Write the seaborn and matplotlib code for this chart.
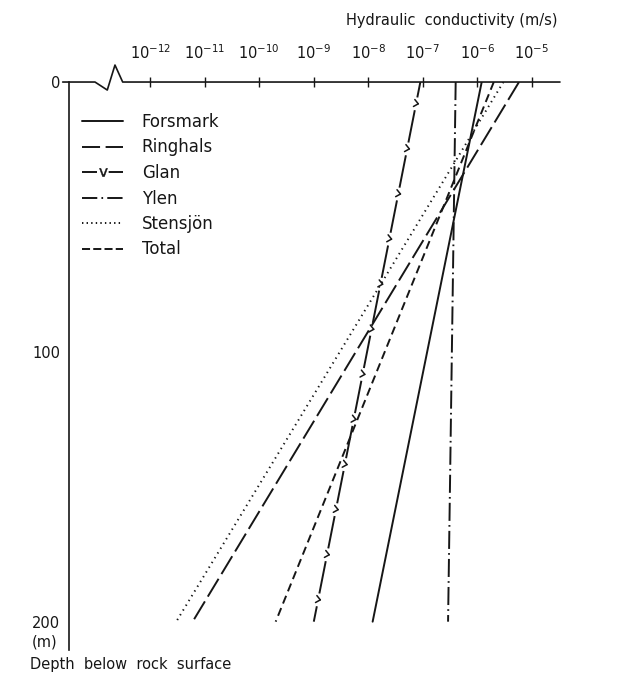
import numpy as np
import pandas as pd
import matplotlib
matplotlib.use("Agg")
import matplotlib.pyplot as plt
from matplotlib import patheffects
from matplotlib.lines import Line2D
from matplotlib.ticker import FixedLocator, NullLocator
import seaborn as sns

# Depth of the two ends of each fitted profile (m below rock surface)
depth_m = [0, 200]

# Hydraulic conductivity (m/s) at the surface and at 200 m depth
series_names = ["Forsmark", "Ringhals", "Glan", "Ylen", "Stensjön", "Total"]
k_forsmark = [1.2e-6, 1.2e-8]
k_ringhals = [5.8e-6, 6.0e-12]
k_glan = [9.0e-8, 1.0e-9]
k_ylen = [4.0e-7, 2.9e-7]
k_stensjon = [3.0e-6, 3.0e-12]
k_total = [2.0e-6, 2.0e-10]

k_ticks = [1e-12, 1e-11, 1e-10, 1e-9, 1e-8, 1e-7, 1e-6, 1e-5]
depth_ticks = [0, 100, 200]

sns.set_style("white")
plt.rcParams["font.family"] = ["DejaVu Sans"]
plt.rcParams["lines.scale_dashes"] = False

INK = "#161616"

profiles = pd.DataFrame({
    "series": np.repeat(series_names, len(depth_m)),
    "depth": depth_m * len(series_names),
    "K": k_forsmark + k_ringhals + k_glan + k_ylen + k_stensjon + k_total,
})

line_dashes = {
    "Forsmark": "",
    "Ringhals": (15, 4),
    "Glan": (21, 10),
    "Ylen": (13, 3, 1.2, 3),
    "Stensjön": (1, 3),
    "Total": (6, 3.5),
}

fig = plt.figure(figsize=(6.22, 6.74), dpi=100)
ax = fig.add_axes([0.1114, 0.0356, 0.7889, 0.8427])
ax.set_xscale("log")
ax.set_xlim(10 ** -13.484, 10 ** -4.485)
ax.set_ylim(210.5, 0)

sns.lineplot(data=profiles, x="K", y="depth", hue="series", style="series",
             palette={n: INK for n in series_names}, dashes=line_dashes,
             sort=False, estimator=None, linewidth=1.4, legend=False, ax=ax)
ax.set_xlim(10 ** -13.484, 10 ** -4.485)
ax.set_ylim(210.5, 0)
ax.set_xlabel("")
ax.set_ylabel("")

# Glan: open chevrons sitting in the gaps of its long dashes
spacing_pt = 32
px_per_pt = fig.dpi / 72
p0 = ax.transData.transform((k_glan[0], depth_m[0]))
p1 = ax.transData.transform((k_glan[1], depth_m[1]))
s_total = float(np.hypot(*(p1 - p0)))
sp_px = spacing_pt * px_per_pt
n_marks = int(np.ceil(s_total / sp_px)) - 1
period_px = (s_total - sp_px) / (n_marks - 1)
gap_px = 13.0
on_px = period_px - gap_px
offset_px = (on_px - sp_px / 2 + gap_px / 2) % period_px
for ln in ax.lines:
    xd = np.asarray(ln.get_xdata(), dtype=float)
    if xd.size == 2 and np.allclose(np.log10(xd), np.log10(k_glan)):
        ln.set_linestyle((offset_px / px_per_pt,
                          (on_px / px_per_pt, gap_px / px_per_pt)))

chev = 5.5 / sp_px
ax.plot(k_glan, depth_m, color=INK, lw=1.1,
        path_effects=[
            patheffects.TickedStroke(spacing=spacing_pt, angle=-50, length=chev, offset=(1.6, 0)),
            patheffects.TickedStroke(spacing=spacing_pt, angle=-130, length=chev, offset=(1.6, 0)),
        ])

# Axes frame: left depth axis, top conductivity axis with a break mark
for side in ("top", "right", "bottom"):
    ax.spines[side].set_visible(False)
ax.spines["left"].set_color(INK)
ax.spines["left"].set_linewidth(1.2)
ax.plot([-0.01345, 0.0524, 0.0774, 0.0931, 0.1088, 1.0],
        [1.0, 1.0, 0.9859, 1.0299, 1.0, 1.0],
        transform=ax.transAxes, clip_on=False, color=INK, lw=1.2)

ax.xaxis.tick_top()
ax.xaxis.set_major_locator(FixedLocator(k_ticks))
ax.xaxis.set_minor_locator(NullLocator())
ax.tick_params(axis="x", which="major", direction="inout", length=6.5, width=1.0,
               color=INK, labelcolor=INK, labelsize=10.5, pad=11,
               top=True, bottom=False, labeltop=True, labelbottom=False)
ax.set_yticks(depth_ticks)
ax.tick_params(axis="y", direction="inout", length=9, width=1.0, color=INK,
               labelcolor=INK, labelsize=10.5, pad=2)

# Legend
legend_dashes = {
    "Forsmark": None,
    "Ringhals": (13, 4),
    "Glan": (10.8, 8.4),
    "Ylen": (11, 3, 1.2, 3),
    "Stensjön": (1, 2.3),
    "Total": (5.8, 2.3),
}
handles = []
for name in series_names:
    kw = dict(color=INK, lw=1.4)
    if legend_dashes[name] is not None:
        kw["dashes"] = legend_dashes[name]
    if name == "Glan":
        kw.update(marker=r"$\mathrm{v}$", markersize=6, markeredgewidth=0.3)
    handles.append(Line2D([], [], **kw))
ax.legend(handles, series_names, loc="upper left",
          bbox_to_anchor=(81.7 / 622, 1 - 113 / 674), bbox_transform=fig.transFigure,
          frameon=False, fontsize=12, handlelength=2.5, handletextpad=1.1,
          labelspacing=0.45, borderpad=0, borderaxespad=0, numpoints=1,
          labelcolor=INK)

fig.text(557 / 622, 1 - 20 / 674, "Hydraulic  conductivity (m/s)", ha="right",
         va="center", fontsize=10.5, color=INK)
fig.text(31.5 / 622, 1 - 642 / 674, "(m)", ha="left", va="center",
         fontsize=10.5, color=INK)
fig.text(30 / 622, 1 - 665 / 674, "Depth  below  rock  surface", ha="left",
         va="center", fontsize=10.5, color=INK)

fig.savefig("out.png", dpi=100)
